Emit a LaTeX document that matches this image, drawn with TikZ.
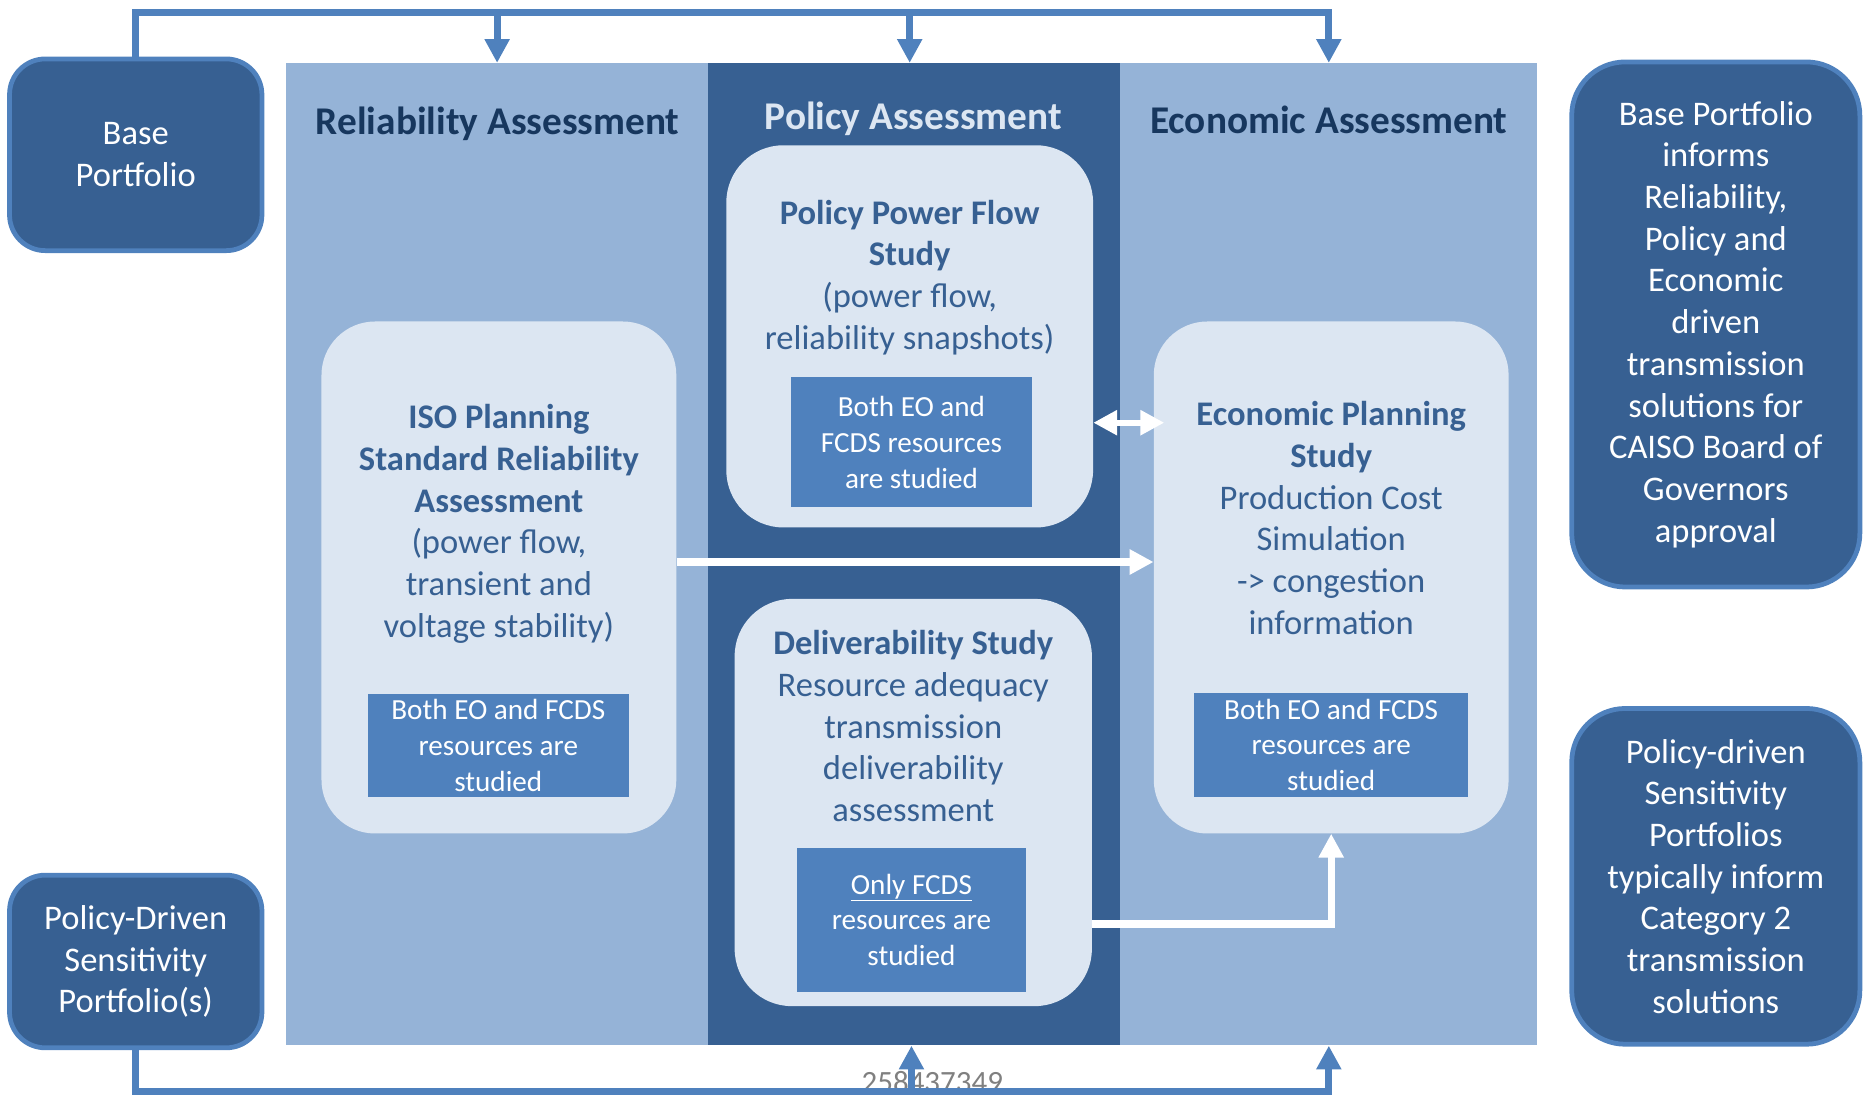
\documentclass[tikz,border=0pt]{standalone}
\usepackage{fontspec}
\setmainfont{Carlito}
\usetikzlibrary{arrows.meta}
\definecolor{darkblue}{RGB}{55,96,146}
\definecolor{midblue}{RGB}{79,129,189}
\definecolor{paleblue}{RGB}{149,179,215}
\definecolor{lightblue}{RGB}{220,230,242}
\definecolor{navy}{RGB}{23,55,94}
\newcommand\bodytxt{\fontsize{29}{35}\selectfont}
\newcommand\titletxt{\fontsize{33}{40}\selectfont\bfseries}
\newcommand\restxt{\fontsize{24.5}{30}\selectfont}
\begin{document}
\begin{tikzpicture}[x=1pt,y=1pt,yscale=-1,xscale=1,
  panel/.style={rectangle,inner sep=0pt,minimum height=825pt},
  paneltitle/.style={inner sep=0pt,font=\titletxt},
  portbox/.style={rectangle,rounded corners=30pt,fill=darkblue,draw=midblue,line width=4pt,
    text=white,align=center,inner sep=0pt,minimum width=212pt,font=\bodytxt},
  notebox/.style={portbox,rounded corners=45pt,minimum width=242pt},
  studybox/.style={rectangle,rounded corners=45pt,fill=lightblue,inner sep=0pt},
  studytext/.style={text=darkblue,align=center,inner sep=0pt,font=\bodytxt},
  resbox/.style={rectangle,fill=midblue,text=white,align=center,inner sep=0pt,font=\restxt},
  bus/.style={draw=midblue,line width=6pt,-{Triangle[width=20pt,length=20pt]}},
  flow/.style={draw=white,line width=6pt,-{Triangle[width=20pt,length=20pt]}},
  dflow/.style={draw=white,line width=5pt,{Triangle[width=20pt,length=20pt]}-{Triangle[width=20pt,length=20pt]}}]
\useasboundingbox (0,0) rectangle (1568,920);

%Shape: Rectangle (assessment panels)
\node[panel,fill=paleblue,minimum width=355pt] (relpanel) at (417.5,465.5) {};
\node[panel,fill=darkblue,minimum width=346pt] (polpanel) at (768,465.5) {};
\node[panel,fill=paleblue,minimum width=350pt] (econpanel) at (1116,465.5) {};

% Text Node
\node[paneltitle,text=navy] (reltitle) at (418,104) {Reliability Assessment};
\node[paneltitle,text=lightblue] (poltitle) at (767,100) {Policy Assessment};
\node[paneltitle,text=navy] (econtitle) at (1116,101) {Economic Assessment};

%Shape: Rounded Rectangle (portfolios)
\node[portbox,minimum height=161pt] (basep) at (114,130) {Base\\Portfolio};
\node[portbox,minimum height=145pt] (sensp) at (114,807.5) {Policy-Driven\\Sensitivity\\Portfolio(s)};
\node[notebox,minimum height=441pt] (basenote) at (1441,272.5) {Base Portfolio\\informs\\Reliability,\\Policy and\\Economic\\driven\\transmission\\solutions for\\CAISO Board of\\Governors\\approval};
\node[notebox,minimum height=282pt] (sensnote) at (1441,736) {Policy-driven\\Sensitivity\\Portfolios\\typically inform\\Category 2\\transmission\\solutions};

%Shape: Rounded Rectangle (studies)
\node[studybox,minimum width=298pt,minimum height=430pt] (iso) at (419,485) {};
\node[studybox,rounded corners=48pt,minimum width=308pt,minimum height=321pt] (ppf) at (764,282.5) {};
\node[studybox,rounded corners=48pt,minimum width=300pt,minimum height=342pt] (deliv) at (767,674) {};
\node[studybox,minimum width=298pt,minimum height=430pt] (econ) at (1118,485) {};

% Text Node
\node[studytext] (isotext) at (419,440) {\textbf{ISO Planning}\\\textbf{Standard Reliability}\\\textbf{Assessment}\\(power flow,\\transient and\\voltage stability)};
\node[studytext] (ppftext) at (764,233) {\textbf{Policy Power Flow}\\\textbf{Study}\\(power flow,\\reliability snapshots)};
\node[studytext] (delivtext) at (767,610) {\textbf{Deliverability Study}\\Resource adequacy\\transmission\\deliverability\\assessment};
\node[studytext] (econtext) at (1118,435) {\textbf{Economic Planning}\\\textbf{Study}\\Production Cost\\Simulation\\-> congestion\\information};

%Shape: Rectangle (resources)
\node[resbox,minimum width=219pt,minimum height=86pt] (isores) at (418.5,626) {Both EO and FCDS\\resources are\\studied};
\node[resbox,minimum width=203pt,minimum height=109pt] (ppfres) at (765.5,371.5) {Both EO and\\FCDS resources\\are studied};
\node[resbox,minimum width=193pt,minimum height=121pt] (delivres) at (765.5,772.5) {\underline{Only FCDS}\\resources are\\studied};
\node[resbox,minimum width=230pt,minimum height=87pt] (econres) at (1118,625.5) {Both EO and FCDS\\resources are\\studied};

%Straight Lines (study links)
\draw[flow] ([yshift=-13pt]iso.east) -- ([yshift=-13pt]econ.west);
\draw[dflow] (ppf.east |- 0,355) -- ([xshift=9pt]econ.west |- 0,355);
\draw[flow] (deliv.east |- 0,776) -| (econ.south);

% Text Node
\node[text=gray,inner sep=0pt,font=\fontsize{26}{30}\selectfont] (wmark) at (783,909) {258437349};

%Straight Lines (portfolio links)
\coordinate (tbus) at (1116,10.5);
\coordinate (bbus) at (1116,917);
\draw[bus] (basep.north) |- (tbus) -- (econpanel.north);
\draw[bus] (relpanel.north |- tbus) -- (relpanel.north);
\draw[bus] (ppf.north |- tbus) -- (ppf.north |- polpanel.north);
\draw[bus] (sensp.south) |- (bbus) -- (econpanel.south);
\draw[bus] (delivres.south |- bbus) -- (delivres.south |- polpanel.south);
\end{tikzpicture}
\end{document}
